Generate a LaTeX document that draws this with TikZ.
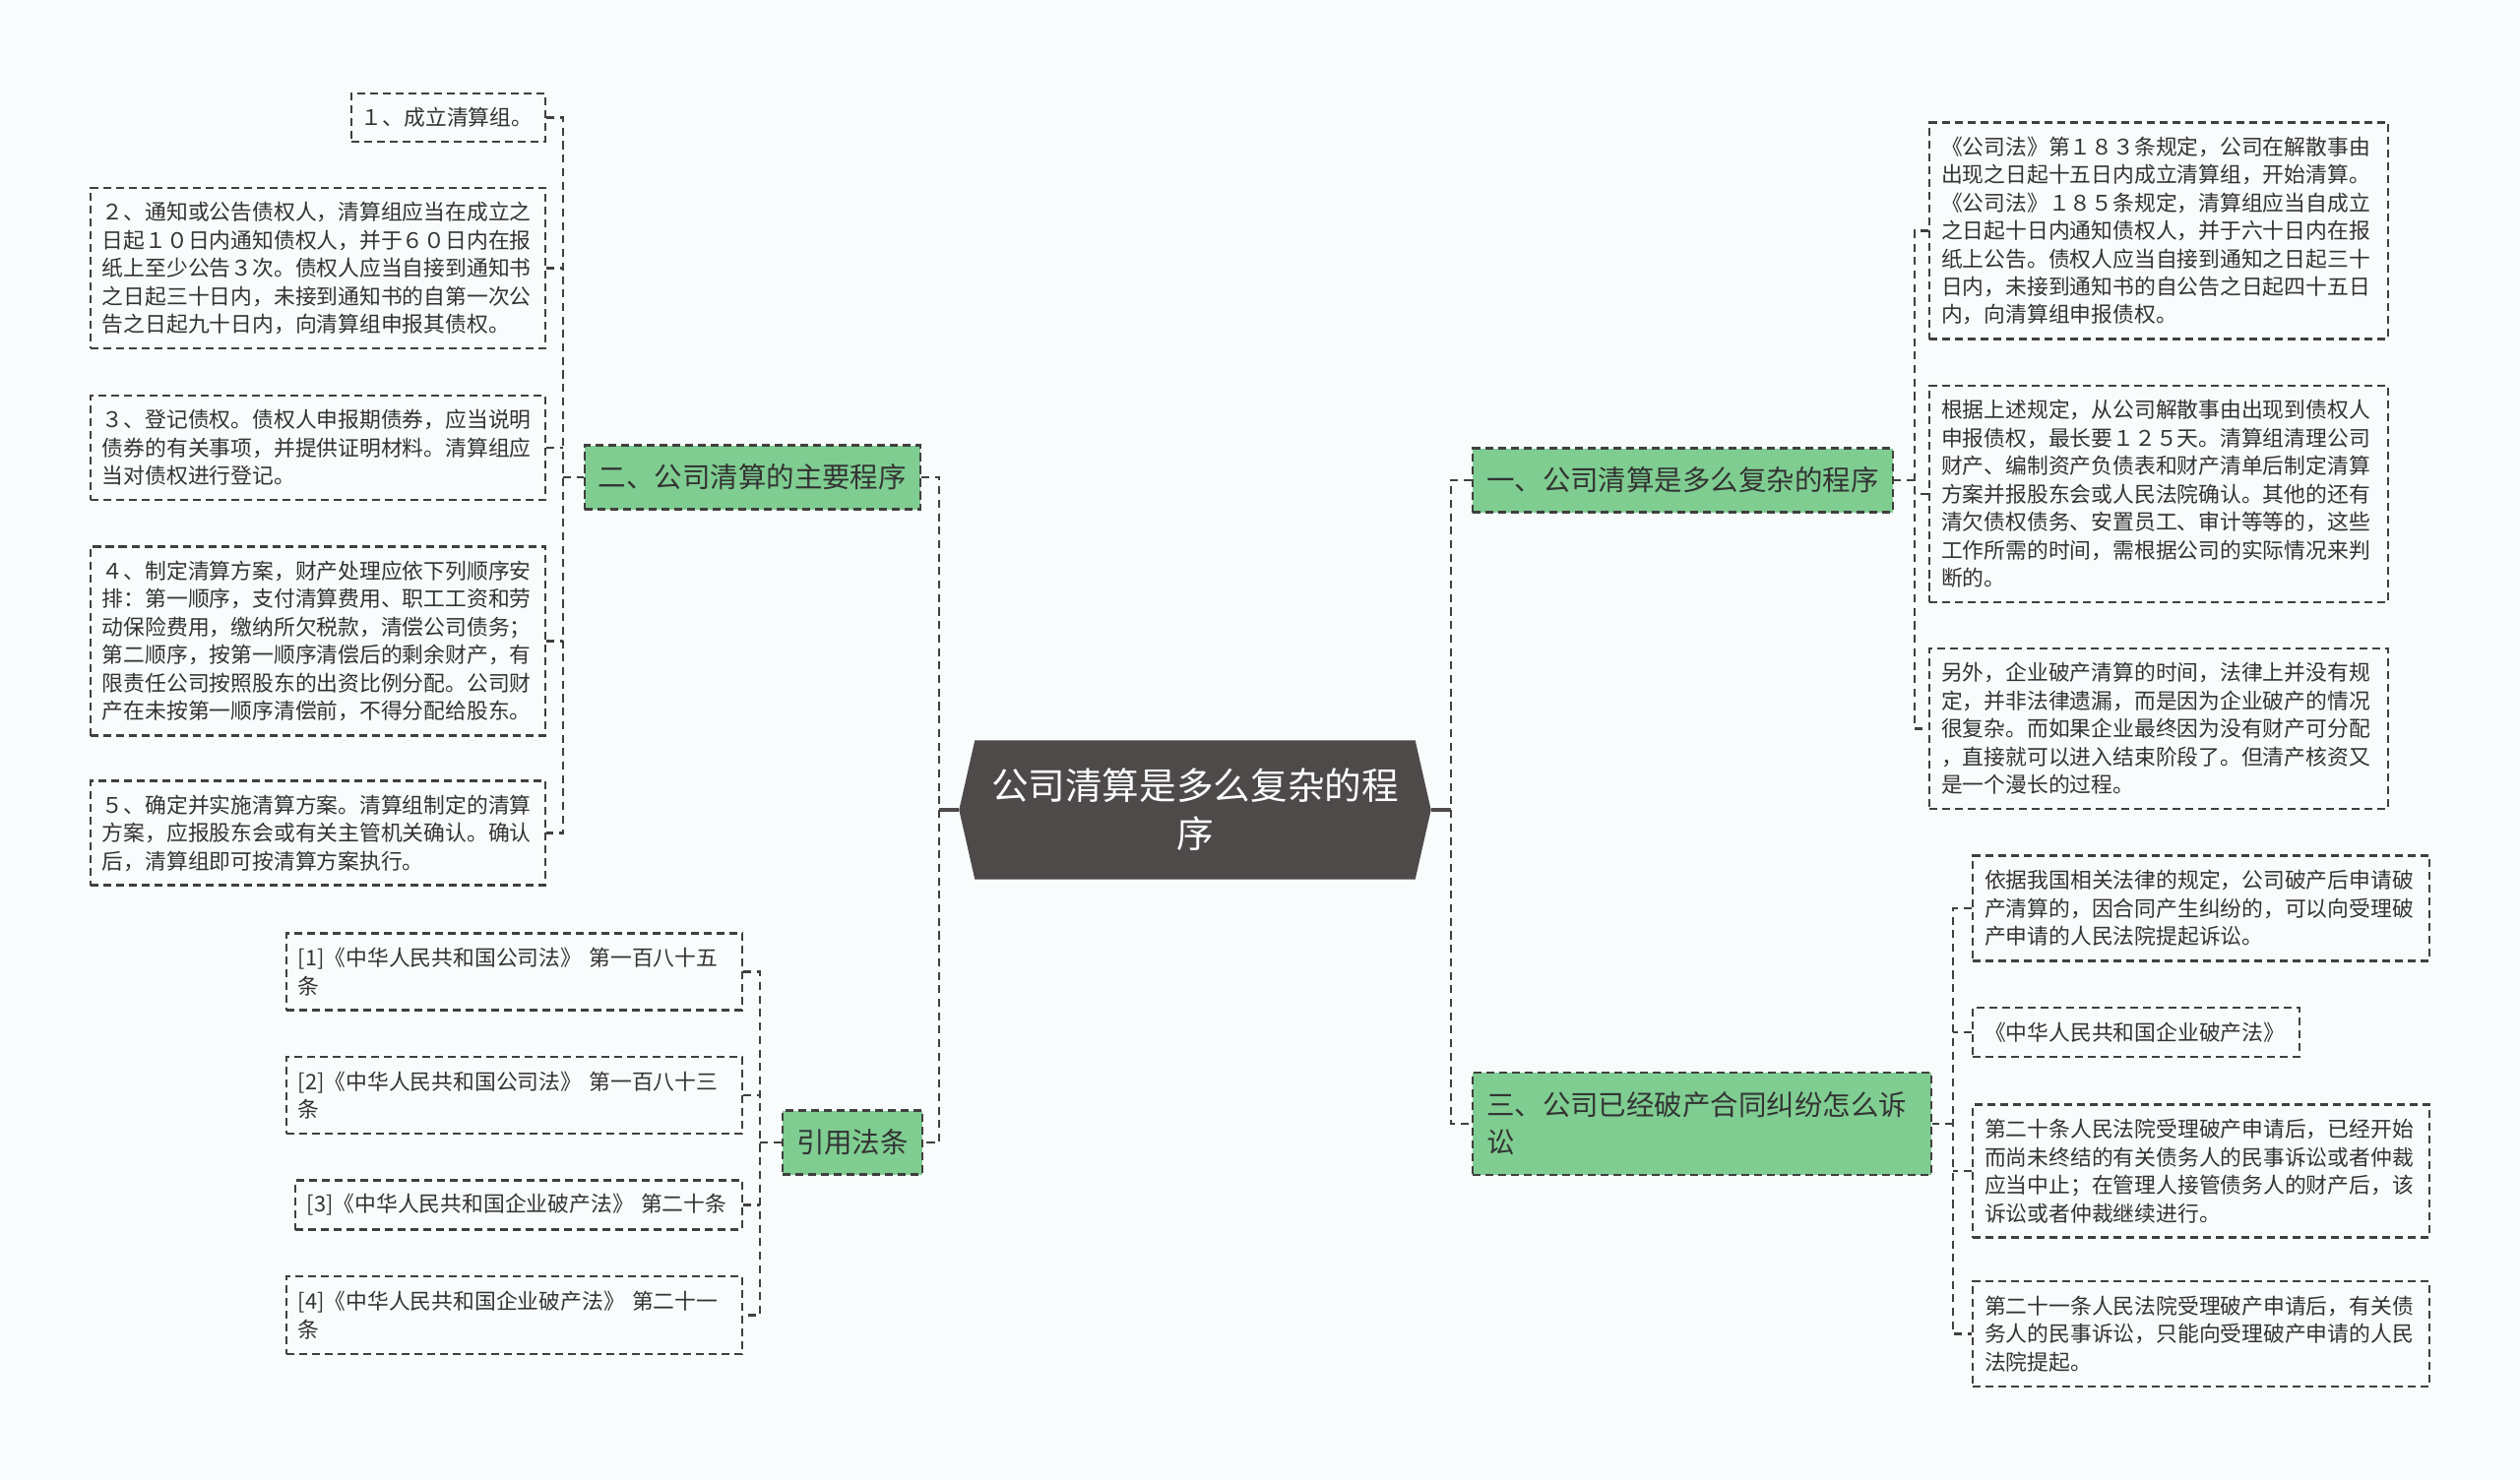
\documentclass[tikz,border=0pt]{standalone}
\usepackage{fontspec}
\setmainfont{Noto Sans CJK SC}
\usetikzlibrary{positioning,backgrounds}
\definecolor{pagebg}{HTML}{F9FCFD}
\definecolor{leafgreen}{HTML}{7FCD91}
\definecolor{rootgray}{HTML}{4E4A4A}
\definecolor{inkgray}{HTML}{333333}
\definecolor{dashgray}{HTML}{404040}
\newcommand{\leaffont}{\fontsize{6.2pt}{8.1pt}\selectfont}
\newcommand{\topicfont}{\fontsize{8.1pt}{10.8pt}\selectfont}
\newcommand{\rootfont}{\fontsize{10.7pt}{13.9pt}\selectfont}

\begin{document}
\begin{tikzpicture}[
  leaf/.style={draw=dashgray, dash pattern=on 2.3pt off 1.4pt, line width=0.62pt, text=inkgray, font=\leaffont, align=left, inner xsep=0.12cm, inner ysep=0.05cm, text width=4.38cm},
  topic/.style={draw=dashgray, dash pattern=on 2.3pt off 1.4pt, line width=0.62pt, fill=leafgreen, text=inkgray, font=\topicfont, align=left, inner xsep=0.14cm, inner ysep=0.1cm, minimum height=0.65cm},
  rootbox/.style={text=white, font=\rootfont, align=center, minimum width=4.78cm, minimum height=1.40cm, inner sep=0pt},
  link/.style={draw=dashgray, dash pattern=on 2.3pt off 1.6pt, line width=0.62pt},
  stem/.style={draw=rootgray, line width=0.9pt}
]
\useasboundingbox (0,0) rectangle (25.6,-15.04);

% ---- centre ----
\node[rootbox] (root) at (12.14,-8.23) {公司清算是多么复杂的程\\序};

% ---- topics ----
\node[topic, anchor=east] (p2) at (9.36,-4.85) {二、公司清算的主要程序};
\node[topic, anchor=east] (ref) at (9.38,-11.61) {引用法条};
\node[topic, anchor=west] (p1) at (14.95,-4.88) {一、公司清算是多么复杂的程序};
\node[topic, anchor=west, text width=4.38cm, minimum height=1.04cm] (p3) at (14.95,-11.42) {三、公司已经破产合同纠纷怎么诉\\讼};

% ---- main procedure ----
\node[leaf, anchor=east, text width=1.77cm, inner xsep=0.1cm, minimum height=0.49cm] (l1) at (5.55,-1.195) {１、成立清算组。};
\node[leaf, anchor=east, minimum height=1.63cm] (l2) at (5.55,-2.725) {２、通知或公告债权人，清算组应当在成立之\\日起１０日内通知债权人，并于６０日内在报\\纸上至少公告３次。债权人应当自接到通知书\\之日起三十日内，未接到通知书的自第一次公\\告之日起九十日内，向清算组申报其债权。};
\node[leaf, anchor=east, minimum height=1.06cm] (l3) at (5.55,-4.55) {３、登记债权。债权人申报期债券，应当说明\\债券的有关事项，并提供证明材料。清算组应\\当对债权进行登记。};
\node[leaf, anchor=east, minimum height=1.92cm] (l4) at (5.55,-6.515) {４、制定清算方案，财产处理应依下列顺序安\\排：第一顺序，支付清算费用、职工工资和劳\\动保险费用，缴纳所欠税款，清偿公司债务；\\第二顺序，按第一顺序清偿后的剩余财产，有\\限责任公司按照股东的出资比例分配。公司财\\产在未按第一顺序清偿前，不得分配给股东。};
\node[leaf, anchor=east, minimum height=1.06cm] (l5) at (5.55,-8.465) {５、确定并实施清算方案。清算组制定的清算\\方案，应报股东会或有关主管机关确认。确认\\后，清算组即可按清算方案执行。};

% ---- cited articles ----
\node[leaf, anchor=east, text width=4.39cm, minimum height=0.78cm] (c1) at (7.55,-9.875) {[1]《中华人民共和国公司法》 第一百八十五\\条};
\node[leaf, anchor=east, text width=4.39cm, minimum height=0.78cm] (c2) at (7.55,-11.13) {[2]《中华人民共和国公司法》 第一百八十三\\条};
\node[leaf, anchor=east, text width=4.30cm, minimum height=0.50cm] (c3) at (7.55,-12.245) {[3]《中华人民共和国企业破产法》~第二十条};
\node[leaf, anchor=east, text width=4.39cm, minimum height=0.79cm] (c4) at (7.55,-13.365) {[4]《中华人民共和国企业破产法》 第二十一\\条};

% ---- how complex ----
\node[leaf, anchor=west, text width=4.42cm, minimum height=2.20cm] (r1) at (19.59,-2.345) {《公司法》第１８３条规定，公司在解散事由\\出现之日起十五日内成立清算组，开始清算。\\《公司法》１８５条规定，清算组应当自成立\\之日起十日内通知债权人，并于六十日内在报\\纸上公告。债权人应当自接到通知之日起三十\\日内，未接到通知书的自公告之日起四十五日\\内，向清算组申报债权。};
\node[leaf, anchor=west, text width=4.42cm, minimum height=2.20cm] (r2) at (19.59,-5.02) {根据上述规定，从公司解散事由出现到债权人\\申报债权，最长要１２５天。清算组清理公司\\财产、编制资产负债表和财产清单后制定清算\\方案并报股东会或人民法院确认。其他的还有\\清欠债权债务、安置员工、审计等等的，这些\\工作所需的时间，需根据公司的实际情况来判\\断的。};
\node[leaf, anchor=west, text width=4.42cm, minimum height=1.63cm] (r3) at (19.59,-7.405) {另外，企业破产清算的时间，法律上并没有规\\定，并非法律遗漏，而是因为企业破产的情况\\很复杂。而如果企业最终因为没有财产可分配\\，直接就可以进入结束阶段了。但清产核资又\\是一个漫长的过程。};

% ---- bankruptcy lawsuit ----
\node[leaf, anchor=west, text width=4.40cm, minimum height=1.07cm] (s1) at (20.03,-9.23) {依据我国相关法律的规定，公司破产后申请破\\产清算的，因合同产生纠纷的，可以向受理破\\产申请的人民法院提起诉讼。};
\node[leaf, anchor=west, text width=3.08cm, minimum height=0.50cm] (s2) at (20.03,-10.49) {《中华人民共和国企业破产法》};
\node[leaf, anchor=west, text width=4.40cm, minimum height=1.35cm] (s3) at (20.03,-11.90) {第二十条人民法院受理破产申请后，已经开始\\而尚未终结的有关债务人的民事诉讼或者仲裁\\应当中止；在管理人接管债务人的财产后，该\\诉讼或者仲裁继续进行。};
\node[leaf, anchor=west, text width=4.40cm, minimum height=1.07cm] (s4) at (20.03,-13.555) {第二十一条人民法院受理破产申请后，有关债\\务人的民事诉讼，只能向受理破产申请的人民\\法院提起。};

% ---- connectors ----
\coordinate[left=0.20cm of root.west] (lb);
\coordinate[right=0.20cm of root.east] (rb);
\draw[stem] (root.west) -- (lb);
\draw[stem] (root.east) -- (rb);
\draw[link] (p2.east) -| (lb) |- (ref.east);
\draw[link] (p1.west) -| (rb) |- (p3.west);

\coordinate[left=0.205cm of p2.west] (b2);
\draw[link] (l1.east) -| (b2) |- (l5.east);
\draw[link] (b2) -- (p2.west);
\foreach \c in {l2,l3,l4}
  \draw[link] (\c.east) -- (\c.east -| b2);

\coordinate[left=0.22cm of ref.west] (bc);
\draw[link] (c1.east) -| (bc) |- (c4.east);
\draw[link] (bc) -- (ref.west);
\foreach \c in {c2,c3}
  \draw[link] (\c.east) -- (\c.east -| bc);

\coordinate[right=0.21cm of p1.east] (b1);
\draw[link] (r1.west) -| (b1) |- (r3.west);
\draw[link] (b1) -- (p1.east);
\draw[link] (r2.west) -- (r2.west -| b1);

\coordinate[right=0.21cm of p3.east] (b3);
\draw[link] (s1.west) -| (b3) |- (s4.west);
\draw[link] (b3) -- (p3.east);
\foreach \c in {s2,s3}
  \draw[link] (\c.west) -- (\c.west -| b3);

\begin{scope}[on background layer]
\fill[pagebg] (0,0) rectangle (25.6,-15.04);
\fill[rootgray] (root.west) -- ([xshift=0.16cm]root.north west) -- ([xshift=-0.16cm]root.north east) -- (root.east) -- ([xshift=-0.16cm]root.south east) -- ([xshift=0.16cm]root.south west) -- cycle;
\end{scope}

\end{tikzpicture}
\end{document}
